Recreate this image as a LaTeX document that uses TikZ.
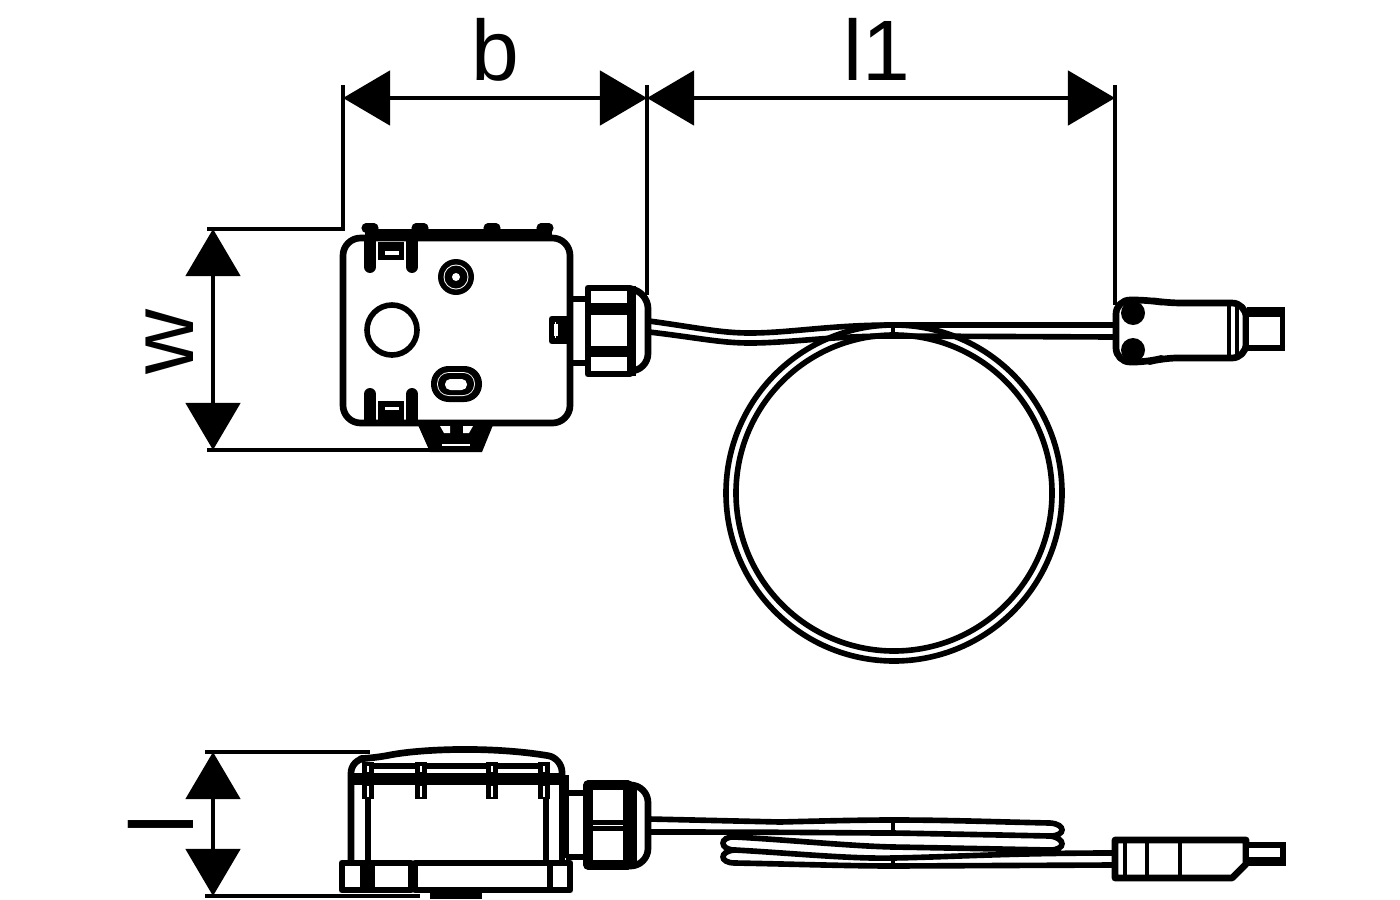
\documentclass[tikz,border=0pt]{standalone}
\usepackage{fontspec}
\setmainfont{Liberation Sans}
\usetikzlibrary{arrows.meta}

\begin{document}
\begin{tikzpicture}[x=0.01cm,y=-0.01cm,%%
  dimStyle/.style={line width=1.4pt,{Triangle[length=0.47cm,width=0.54cm]}-{Triangle[length=0.47cm,width=0.54cm]}},%%
  extStyle/.style={-,line width=1pt},%%
  partStyle/.style={-,line width=1.9pt,line join=round},%%
  cableStyle/.style={-,line width=1.6pt,line cap=round},%%
  labelStyle/.style={inner sep=0pt,font=\fontsize{25.6}{30}\selectfont},%%
  topLabelStyle/.style={inner sep=0pt,font=\fontsize{24.4}{30}\selectfont},%%
  clipStyle/.style={-,line width=3.4pt,line cap=round}%%
]
%%
\path[use as bounding box,fill=white] (0,0) rectangle (1400,900);
%%
%% Ends of the dimension lines.
\coordinate (bLeft) at (343,98);
\coordinate (bRight) at (647,98);
\coordinate (lEnd) at (1115,98);
\coordinate (wTop) at (213,229);
\coordinate (wBottom) at (213,450);
\coordinate (hTop) at (213,752);
\coordinate (hBottom) at (213,896);
%%
%% Dimension lines.
\draw[dimStyle] (bLeft) -- (bRight);
\draw[dimStyle] (bRight) -- (lEnd);
\draw[dimStyle] (wTop) -- (wBottom);
\draw[dimStyle] (hTop) -- (hBottom);
%% Extension lines.
\draw[extStyle] (343,85) -- (343,229) -- (207,229);
\draw[extStyle] (647,85) -- (647,295);
\draw[extStyle] (1115,85) -- (1115,305);
\draw[extStyle] (207,450) -- (432,450);
\draw[extStyle] (205,752) -- (370,752);
\draw[extStyle] (205,896) -- (420,896);
%% Labels.
\node[topLabelStyle] (labelB) at (495,50) {b};
\node[topLabelStyle] (labelL) at (877,49) {l1};
\node[labelStyle,rotate=90] (labelW) at (170,342) {w};
\node[labelStyle,rotate=90] (labelH) at (161,824) {l};
%%
%% Upper view: the box.
\draw[partStyle,rounded corners=5pt] (343,238) rectangle (570,423);
\draw[-,line width=3.6pt] (365,235) -- (552,235);
\foreach \x in {370,420,492,545} {
  \draw[clipStyle,line width=2.6pt] (\x-4,228) -- (\x+4,228);
}
%% The clips.
\foreach \x in {370,412} {
  \draw[clipStyle] (\x,240) -- (\x,267);
  \draw[clipStyle] (\x,394) -- (\x,420);
}
\fill (378,242) rectangle (404,260);
\fill (378,401) rectangle (404,420);
\fill[white] (385,251) rectangle (399,255);
\fill[white] (385,407) rectangle (399,410);
%% The openings.
\draw[line width=1.6pt] (392,330) circle[radius=25];
\fill (456,277) circle[radius=18];
\fill[white] (456,277) circle[radius=12.5];
\fill (456,277) circle[radius=11.5];
\fill[white] (456,277) circle[radius=4];
\fill[rounded corners=5pt] (431,366) rectangle (482,402);
\fill[white,rounded corners=3.4pt] (437,372) rectangle (475,396);
\fill[rounded corners=3pt] (438,373) rectangle (474,395);
\fill[white,rounded corners=1.5pt] (445,379) rectangle (467,390);
%% The foot under the box.
\fill (418,425) -- (493,425) -- (482,452) -- (430,452) -- cycle;
\fill[white] (440,426) -- (450,426) -- (450,433) -- (444,433) -- cycle;
\fill[white] (463,426) -- (473,426) -- (469,433) -- (463,433) -- cycle;
\fill[white] (442,444) rectangle (470,446);
%%
%% Upper view: the gland.
\draw[partStyle] (573,299) -- (586,299);
\draw[partStyle] (573,363) -- (586,363);
\draw[partStyle] (569,319) -- (552,319) -- (552,341) -- (569,341);
\fill (556,322) rectangle (568,338);
\fill[white] (554,324) rectangle (558,336);
\draw[partStyle] (588,288) rectangle (630,374);
\fill (588,303) rectangle (630,315);
\fill (588,346) rectangle (630,357);
\fill (627,286) rectangle (636,376);
\draw[partStyle,rounded corners=5pt] (632,289) -- (648,291) -- (648,371) -- (632,371);
%%
%% Upper view: the coil and its cable.
\draw[cableStyle] (894,493) circle[radius=168];
\draw[cableStyle] (894,493) circle[radius=158];
\draw[cableStyle] (649,321) .. controls (700,328) and (720,333) .. (750,333)
  .. controls (790,333) and (830,325) .. (893,325) -- (1113,325);
\draw[cableStyle] (649,332) .. controls (700,338) and (720,343) .. (750,343)
  .. controls (790,343) and (830,336) .. (893,336) -- (1113,337);
\draw[-,line width=1.2pt] (893,325) -- (893,336);
%%
%% Upper view: the plug.
\draw[partStyle,rounded corners=4pt] (1116,300) -- (1148,300)
  -- (1167,303) -- (1246,303) -- (1246,358) -- (1163,358) -- (1148,362)
  -- (1116,362) -- cycle;
\fill (1133,313) circle[radius=12];
\fill (1133,350) circle[radius=12];
\draw[-,line width=1pt] (1229,303) -- (1229,358);
\draw[-,line width=1pt] (1237,303) -- (1237,358);
\fill (1247,307) rectangle (1285,351);
\fill[white] (1249,317) rectangle (1280,345);
%%
%% Lower view: the lid.
\draw[partStyle,rounded corners=4pt] (351,860) -- (351,759) -- (375,758)
  .. controls (420,749) and (490,746) .. (562,758) -- (562,775);
\draw[partStyle] (351,860) -- (351,775);
\draw[partStyle] (562,775) -- (562,860);
\draw[partStyle] (368,766) -- (545,766);
\fill (353,773) rectangle (560,785);
\draw[partStyle] (566,775) -- (566,858);
\foreach \x in {368,421,492,544} {
  \fill (\x-6,762) rectangle (\x+6,799);
  \draw[white,line width=0.5pt] (\x,766) -- (\x,772);
  \draw[white,line width=0.5pt] (\x,786) -- (\x,797);
}
\draw[partStyle] (368,799) -- (368,860);
\draw[partStyle] (546,799) -- (546,860);
%% The base.
\draw[partStyle] (342,863) rectangle (411,890);
\draw[partStyle] (415,863) rectangle (570,890);
\fill (360,865) rectangle (375,888);
\draw[partStyle] (550,865) -- (550,888);
\fill (430,893) rectangle (482,899);
%%
%% Lower view: the gland.
\draw[partStyle] (566,793) -- (586,793);
\draw[partStyle] (566,857) -- (586,857);
\draw[partStyle,line width=2.6pt] (588,785) rectangle (628,865);
\fill (628,784) rectangle (637,866);
\draw[partStyle,rounded corners=5pt] (632,785) -- (648,785) -- (648,866) -- (632,866);
\fill (590,820) rectangle (628,825);
\fill (590,826) rectangle (628,831);
%%
%% Lower view: the coil and its cable.
\draw[cableStyle] (649,819) -- (780,822) .. controls (820,821) and (860,820) .. (893,820)
  .. controls (950,820) and (1000,822) .. (1050,823)
  .. controls (1066,824) and (1066,836) .. (1050,836)
  .. controls (1000,835) and (950,834) .. (893,833) .. controls (850,833) and (800,832) .. (649,832);
\draw[cableStyle] (1050,836) .. controls (1066,838) and (1066,850) .. (1050,850)
  .. controls (1000,849) and (950,848) .. (893,847) .. controls (850,846) and (790,840) .. (735,837)
  .. controls (719,836) and (719,850) .. (735,850)
  .. controls (790,853) and (850,859) .. (893,858) .. controls (950,857) and (1010,853) .. (1113,853);
\draw[cableStyle] (735,850) .. controls (719,851) and (719,863) .. (735,863)
  .. controls (790,864) and (850,866) .. (893,866) -- (1113,865);
\draw[-,line width=1.2pt] (893,820) -- (893,833);
\draw[-,line width=1.2pt] (893,858) -- (893,866);
%%
%% Lower view: the plug.
\draw[partStyle] (1115,840) -- (1246,840) -- (1246,864) -- (1232,878)
  -- (1115,878) -- cycle;
\draw[-,line width=1.4pt] (1125,840) -- (1125,878);
\draw[-,line width=1.4pt] (1147,840) -- (1147,878);
\draw[-,line width=1.4pt] (1180,840) -- (1180,878);
\fill (1248,842) rectangle (1286,866);
\fill[white] (1249,848) rectangle (1280,857);
\end{tikzpicture}
\end{document}
